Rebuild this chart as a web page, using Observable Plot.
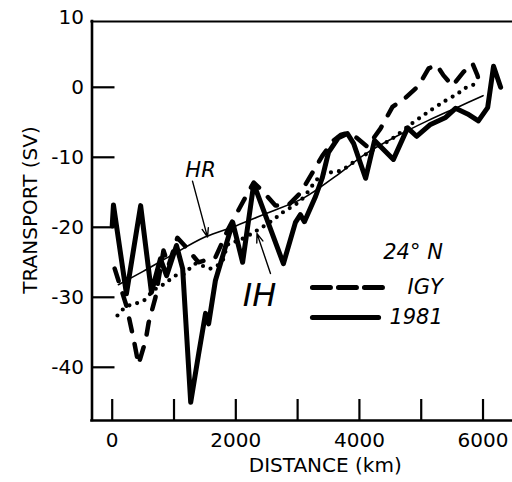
<!DOCTYPE html>
<html><head><meta charset="utf-8">
<script src="https://cdn.jsdelivr.net/npm/d3@7"></script>
<script src="https://cdn.jsdelivr.net/npm/@observablehq/plot@0.6"></script>
<style>body{margin:0;background:#fff;}</style>
</head><body><div id="chart"></div>
<script>
// ---- data (distance km, transport Sv) ----
const dist1981 = [0,20,230,460,635,780,880,1040,1140,1270,1400,1510,1560,1670,1950,2110,2290,2770,2965,3045,3110,3290,3400,3500,3660,3805,3905,4100,4245,4550,4780,4925,5150,5395,5555,5750,5925,6075,6170,6285];
const sv1981   = [-19.8,-16.8,-29.5,-16.9,-29.3,-24.5,-26.9,-22.6,-25.9,-45.0,-38.0,-32.3,-33.8,-27.6,-19.3,-25.0,-13.8,-25.2,-19.3,-18.2,-19.2,-15.6,-12.9,-9.3,-7.2,-6.6,-8.0,-13.0,-7.6,-10.3,-5.8,-7.0,-5.3,-4.3,-3.0,-3.8,-4.8,-2.9,3.0,0.0];

const distIGY = [40,230,345,425,540,590,700,830,910,1055,1170,1395,1670,1880,2125,2290,2430,2640,2855,3045,3240,3400,3580,3695,3825,3955,4130,4340,4535,4745,4955,5120,5250,5360,5505,5685,5830,5910,5960];
const svIGY   = [-25.9,-31.2,-35.9,-39.6,-36.2,-33.6,-30.0,-23.3,-25.5,-21.5,-22.6,-25.0,-24.3,-20.2,-16.2,-13.6,-14.8,-16.9,-16.8,-15.1,-12.2,-9.8,-7.6,-6.8,-6.5,-7.2,-8.5,-5.9,-2.8,-1.5,0.2,2.7,3.2,1.7,0.2,2.2,3.4,1.7,0.0];

const distIH = [85,215,330,505,670,860,1025,1160,1350,1590,1780,1880,2045,2335,2595,2755,3045,3400,3695,3940,4210,4535,4875,5150,5395,5590,5735,5895];
const svIH   = [-32.6,-31.4,-31.0,-30.5,-29.0,-28.0,-26.9,-26.7,-25.2,-25.9,-24.8,-22.4,-21.9,-20.5,-19.0,-17.9,-16.2,-12.5,-11.9,-10.5,-9.0,-7.3,-5.0,-3.3,-1.9,-0.9,0.0,0.5];

const distHR = [100,500,900,1500,2000,2500,3100,3600,4100,4600,5100,5600,6000];
const svHR   = [-28.2,-26.3,-24.3,-21.4,-19.8,-18.0,-15.8,-12.8,-9.5,-7.0,-4.8,-2.8,-1.2];

// ---- axes ----
const xTicks = [0,1000,2000,3000,4000,5000,6000];
const xTickLabels = [0,2000,4000,6000];
const yTicks = [0,-10,-20,-30,-40];
const yTickLabels = [10,0,-10,-20,-30,-40];
const xDomain = [-327, 6477];
const yDomain = [-47.6, 9.4];
const xTitle = "DISTANCE (km)";
const yTitle = "TRANSPORT (SV)";

// ---- annotations ----
const labels = [
  {text: "HR", d: 1429, v: -11.9, font: "DejaVu Sans", size: 21},
  {text: "IH", d: 2383, v: -29.8, font: "Liberation Serif", size: 32}
];
const arrows = [
  {d1: 1299, v1: -13.4, d2: 1542, v2: -21.4},
  {d1: 2561, v1: -26.6, d2: 2343, v2: -20.9}
];
const legendText = [
  {text: "24° N", d: 5350, v: -23.5},
  {text: "IGY", d: 5350, v: -28.5},
  {text: "1981", d: 5350, v: -32.9}
];
const legendDash = [{d: 3240, v: -28.6}, {d: 4375, v: -28.6}];
const legendSolid = [{d: 3240, v: -32.9}, {d: 4310, v: -32.9}];

const zip = (ds, vs) => ds.map((d, i) => ({d, v: vs[i]}));
const s1981 = zip(dist1981, sv1981);
const sIGY = zip(distIGY, svIGY);
const sIH = zip(distIH, svIH);
const sHR = zip(distHR, svHR);

const frameW = 512 - 91.5, frameH = 420 - 21;

const chart = Plot.plot({
  width: 512, height: 482,
  marginLeft: 91.5, marginRight: 0, marginTop: 21, marginBottom: 62,
  x: {domain: xDomain, axis: null},
  y: {domain: yDomain, axis: null},
  style: {fontFamily: "DejaVu Sans", fontSize: "20px", background: "#fff", color: "#000", overflow: "visible"},
  marks: [
    // frame
    Plot.ruleX([xDomain[0]], {strokeWidth: 2.6, strokeLinecap: "square"}),
    Plot.ruleY([yDomain[0]], {strokeWidth: 2.6, strokeLinecap: "square"}),
    Plot.ruleY([yDomain[1]], {strokeWidth: 2.2, strokeLinecap: "square"}),
    // inward ticks
    Plot.ruleY(yTicks, {y: d => d, insetRight: frameW - 23, strokeWidth: 2.2}),
    Plot.ruleX(xTicks, {x: d => d, insetTop: frameH - 21, strokeWidth: 2.2}),
    // tick labels
    Plot.text(yTickLabels, {y: d => d, text: d => String(d), frameAnchor: "left", textAnchor: "end", dx: -8, lineAnchor: "middle", fontSize: 20}),
    Plot.text(xTickLabels, {x: d => d, text: d => String(d), frameAnchor: "bottom", dy: 20, lineAnchor: "middle", fontSize: 20}),
    // axis titles
    Plot.text([xTitle], {text: d => d, frameAnchor: "bottom", textAnchor: "middle", dx: 23, dy: 45, lineAnchor: "middle", fontSize: 20}),
    Plot.text([yTitle], {text: d => d, frameAnchor: "left", textAnchor: "middle", dx: -61, dy: -11, rotate: -90, lineAnchor: "middle", fontSize: 20}),
    // curves
    Plot.line(sHR, {x: "d", y: "v", curve: "catmull-rom", strokeWidth: 1.6}),
    Plot.line(sIH, {x: "d", y: "v", curve: "catmull-rom", strokeWidth: 4.2, strokeDasharray: "0,8", strokeLinecap: "round"}),
    Plot.line(sIGY, {x: "d", y: "v", strokeWidth: 4.5, strokeDasharray: "13,13", strokeLinecap: "round", strokeLinejoin: "round"}),
    Plot.line(s1981, {x: "d", y: "v", strokeWidth: 5, strokeLinejoin: "round", strokeLinecap: "round"}),
    // annotations
    Plot.arrow(arrows, {x1: "d1", y1: "v1", x2: "d2", y2: "v2", strokeWidth: 1.4, headLength: 10, headAngle: 40}),
    Plot.text(labels, {x: "d", y: "v", text: "text", fontFamily: d => d.font, fontSize: d => d.size, fontStyle: "italic", lineAnchor: "middle"}),
    // legend
    Plot.line(legendDash, {x: "d", y: "v", strokeWidth: 5, strokeDasharray: "18,8"}),
    Plot.line(legendSolid, {x: "d", y: "v", strokeWidth: 5}),
    Plot.text(legendText, {x: "d", y: "v", text: "text", textAnchor: "end", fontStyle: "italic", fontSize: 21, lineAnchor: "middle"})
  ]
});
document.getElementById("chart").appendChild(chart);
</script>
</body></html>
